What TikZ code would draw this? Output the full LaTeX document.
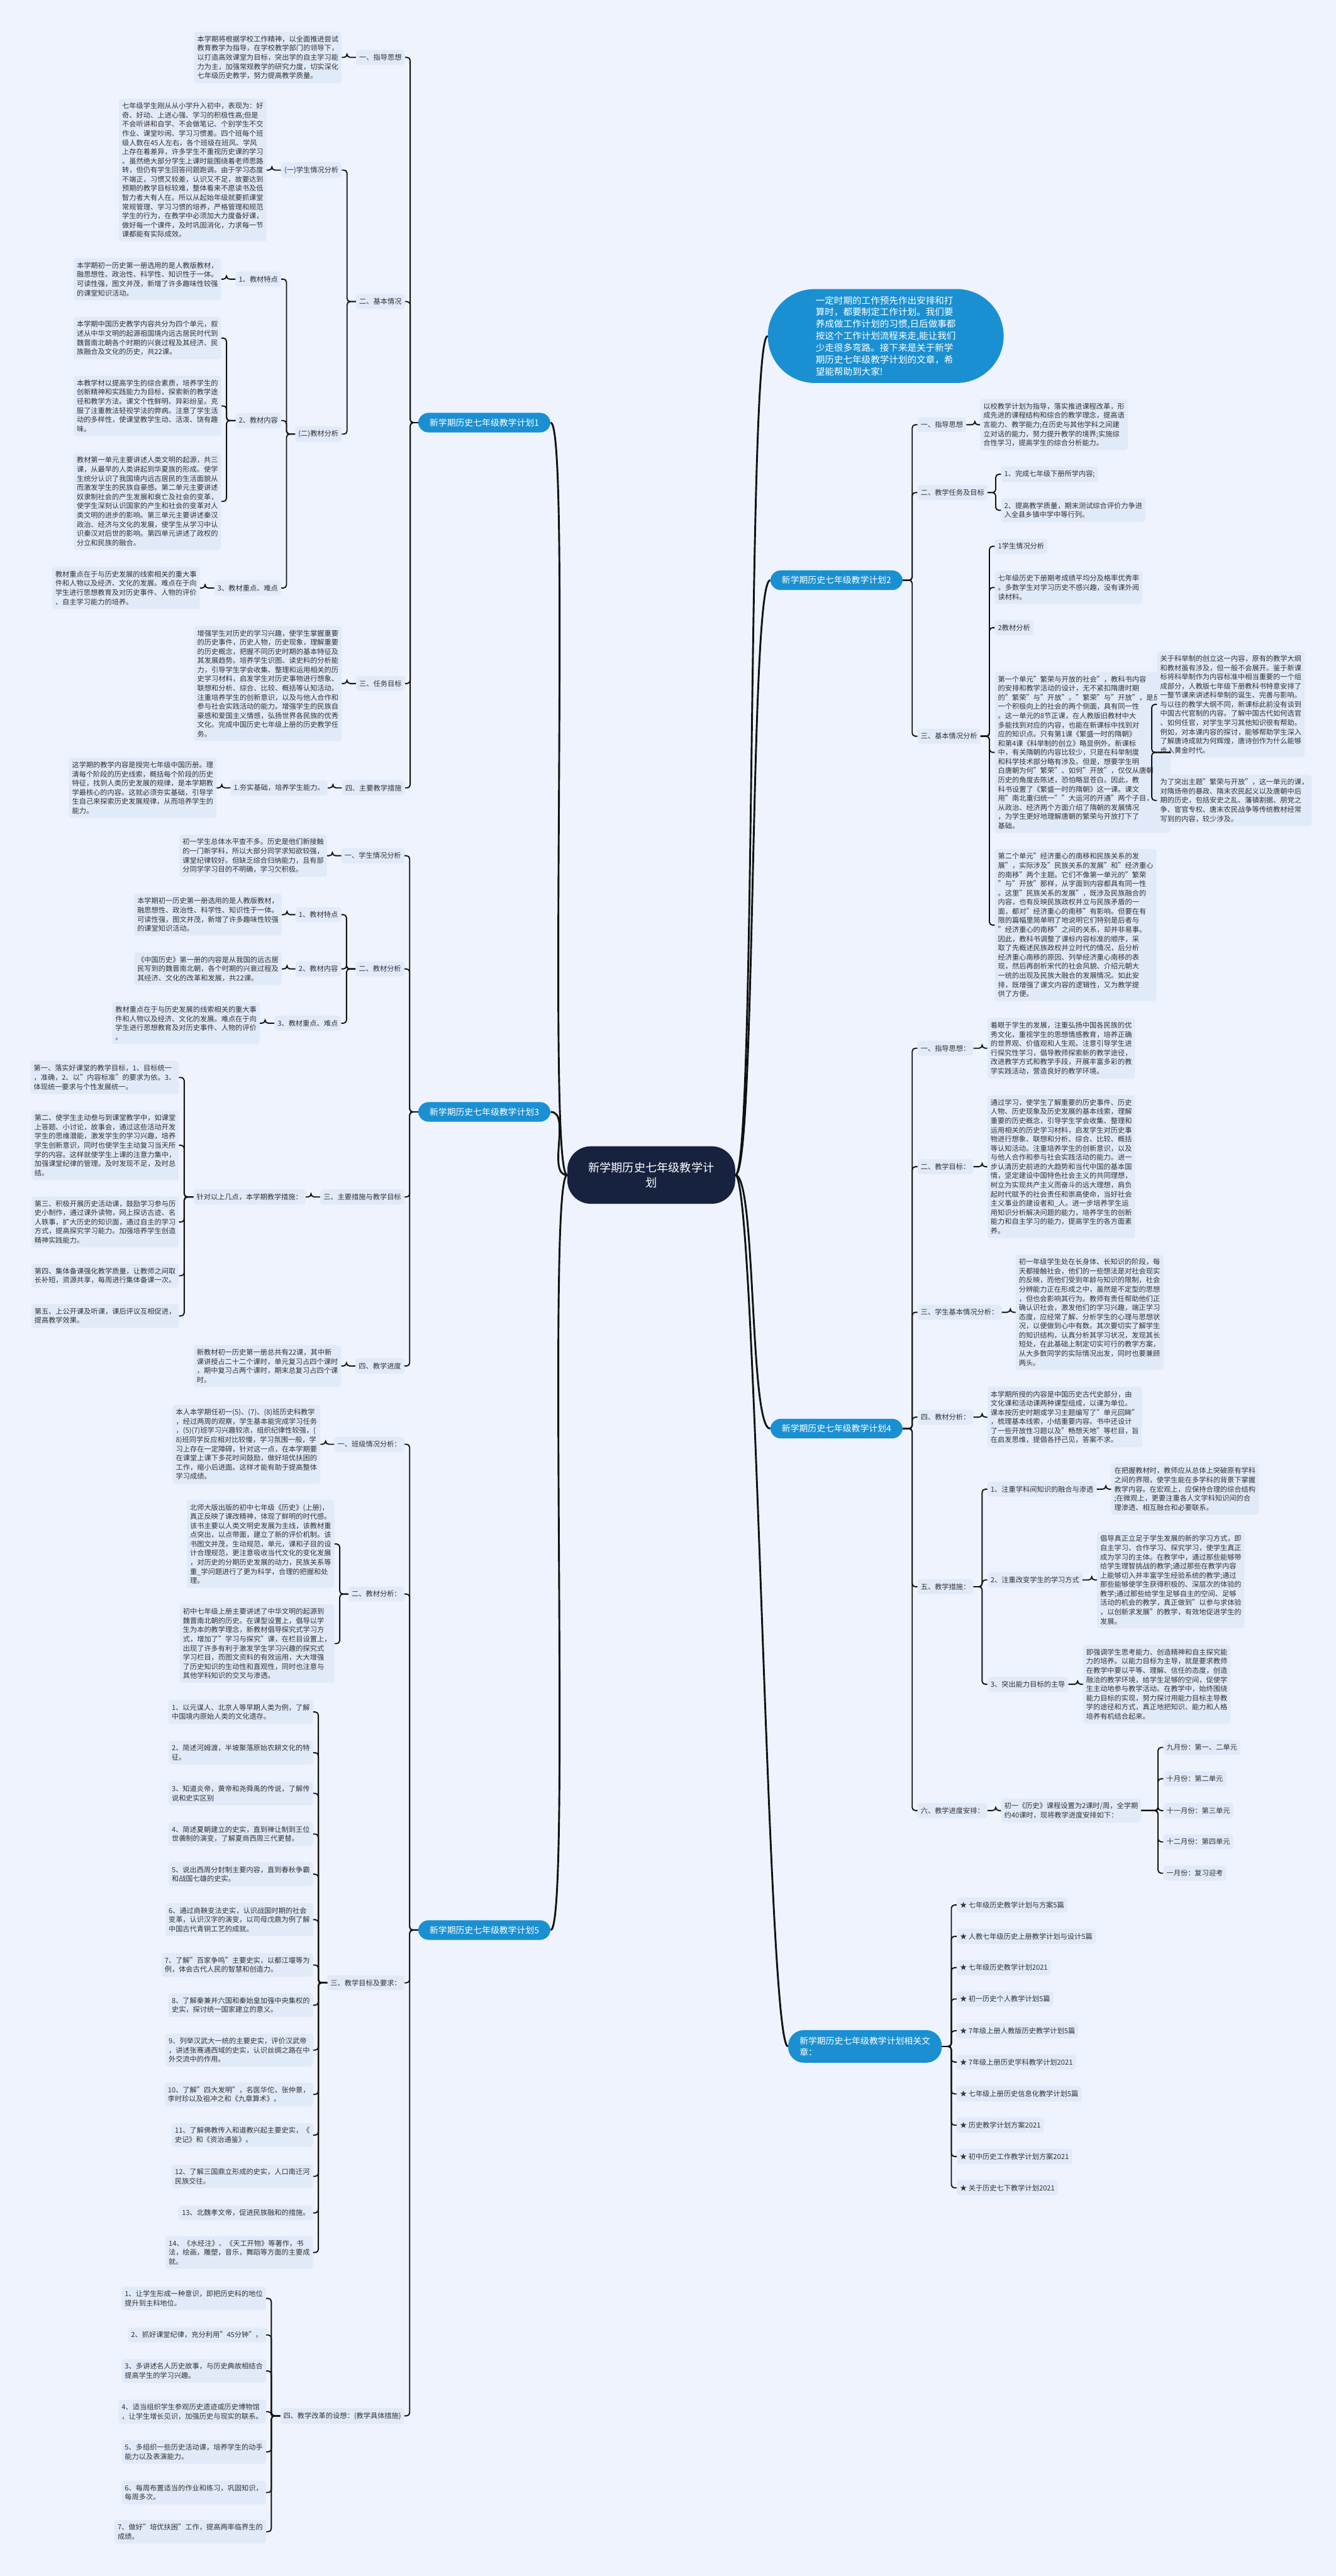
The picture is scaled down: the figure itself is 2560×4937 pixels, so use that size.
\documentclass[tikz,border=0pt]{standalone}
\usepackage{fontspec}
\setmainfont{Noto Sans CJK SC}
\newfontfamily\wmfont{Liberation Serif}
\definecolor{bgc}{HTML}{EEF3FD}
\definecolor{boxc}{HTML}{E1EAF8}
\definecolor{l1c}{HTML}{1A90D2}
\definecolor{rootc}{HTML}{17223F}
\definecolor{txtc}{HTML}{333333}
\definecolor{linec}{HTML}{111111}
\newcommand\fsA{\fontsize{7.7pt}{10pt}\selectfont}
\newcommand\fsB{\fontsize{9.5pt}{12.5pt}\selectfont}
\newcommand\fsC{\fontsize{12.5pt}{17pt}\selectfont}
\newcommand\fsD{\fontsize{10pt}{13pt}\selectfont}
\newcommand\lnk[2]{\draw[cn] (#1.west) -| ([xshift=0.2cm]#2.east) -- (#2.east);}
\newcommand\rnk[2]{\draw[cn] (#1.east) -| ([xshift=-0.2cm]#2.west) -- (#2.west);}
\tikzset{
  box/.style={fill=boxc, rounded corners=0.1cm, inner xsep=0.12cm, inner ysep=0.15cm, align=left, text=txtc, font=\fsA},
  lbl/.style={box, inner ysep=0.16cm},
  L/.style={anchor=east}, R/.style={anchor=west},
  lone/.style={fill=l1c, text=white, rounded corners=0.4cm, inner xsep=0.44cm, inner ysep=0.22cm, font=\fsB, align=left},
  cn/.style={draw=linec, line width=0.045cm, rounded corners=0.12cm},
  cnone/.style={draw=linec, line width=0.07cm}
}
\begin{document}
\begin{tikzpicture}[x=0.02cm,y=-0.02cm]
\fill[bgc] (0,0) rectangle (2560,4937);
\useasboundingbox (0,0) rectangle (2560,4937);

% ---------- root and intro ----------
\node[fill=rootc, text=white, rounded corners=0.9cm, inner xsep=0.8cm, inner ysep=0.6cm, font=\fsC, align=center] (root) at (1248,2252) {新学期历史七年级教学计\\划};
\node[fill=l1c, text=white, rounded corners=1.8cm, minimum width=9.04cm, minimum height=3.6cm, font=\fsD, align=left, anchor=west, inner sep=0pt] (intro) at (1471,644) {一定时期的工作预先作出安排和打\\算时，都要制定工作计划。我们要\\养成做工作计划的习惯,日后做事都\\按这个工作计划流程来走,能让我们\\少走很多弯路。接下来是关于新学\\期历史七年级教学计划的文章，希\\望能帮助到大家!};

% ---------- plan 1 ----------
\node[lone, anchor=west] (p1) at (801,810) {新学期历史七年级教学计划1};
\node[lbl, L] (p1a) at (776,110) {一、指导思想};
\node[box, L] (p1at) at (655,110) {本学期将根据学校工作精神，以全面推进尝试\\教育教学为指导，在学校教学部门的领导下，\\以打造高效课堂为目标，突出学的自主学习能\\力为主，加强常规教学的研究力度，切实深化\\七年级历史教学，努力提高教学质量。};
\node[lbl, L] (p1b) at (776,578) {二、基本情况};
\node[lbl, L] (p1b1) at (655,326) {(一)学生情况分析};
\node[box, L] (p1b1t) at (511,326) {七年级学生刚从从小学升入初中，表现为：好\\奇、好动、上进心强、学习的积极性高;但是\\不会听讲和自学、不会做笔记、个别学生不交\\作业、课堂吵闹、学习习惯差。四个班每个班\\级人数在45人左右，各个班级在班风、学风\\上存在着差异，许多学生不重视历史课的学习\\。虽然绝大部分学生上课时能围绕着老师思路\\转，但仍有学生回答问题跑调。由于学习态度\\不端正，习惯又较差，认识又不足，故要达到\\预期的教学目标较难，整体看来不愿读书及低\\智力者大有人在。所以从起始年级就要抓课堂\\常规管理、学习习惯的培养，严格管理和规范\\学生的行为，在教学中必须加大力度备好课，\\做好每一个课件，及时巩固消化，力求每一节\\课都能有实际成效。};
\node[lbl, L] (p1b2) at (655,832) {(二)教材分析};
\node[lbl, L] (p1c1) at (539,535) {1、教材特点};
\node[box, L] (p1c1t) at (424,535) {本学期初一历史第一册选用的是人教版教材，\\融思想性、政治性、科学性、知识性于一体。\\可读性强，图文并茂，新增了许多趣味性较强\\的课堂知识活动。};
\node[lbl, L] (p1c2) at (539,806) {2、教材内容};
\node[box, L] (p1d1) at (424,648) {本学期中国历史教学内容共分为四个单元，叙\\述从中华文明的起源祖国境内远古居民时代到\\魏晋南北朝各个时期的兴衰过程及其经济、民\\族融合及文化的历史，共22课。};
\node[box, L] (p1d2) at (424,778) {本教学材以提高学生的综合素质，培养学生的\\创新精神和实践能力为目标，探索新的教学途\\径和教学方法。课文个性鲜明、异彩纷呈。克\\服了注重教法轻视学法的弊病。注意了学生活\\动的多样性，使课堂教学生动、活泼、饶有趣\\味。};
\node[box, L] (p1d3) at (424,961) {教材第一单元主要讲述人类文明的起源，共三\\课，从最早的人类讲起到华夏族的形成。使学\\生统分认识了我国境内远古居民的生活面貌从\\而激发学生的民族自豪感。第二单元主要讲述\\奴隶制社会的产生发展和衰亡及社会的变革，\\使学生深刻认识国家的产生和社会的变革对人\\类文明的进步的影响。第三单元主要讲述秦汉\\政治、经济与文化的发展，使学生从学习中认\\识秦汉对后世的影响。第四单元讲述了政权的\\分立和民族的融合。};
\node[lbl, L] (p1c3) at (539,1127) {3、教材重点、难点};
\node[box, L] (p1c3t) at (383,1127) {教材重点在于与历史发展的线索相关的重大事\\件和人物以及经济、文化的发展。难点在于向\\学生进行思想教育及对历史事件、人物的评价\\、自主学习能力的培养。};
\node[lbl, L] (p1e) at (776,1310) {三、任务目标};
\node[box, L] (p1et) at (655,1310) {增强学生对历史的学习兴趣，使学生掌握重要\\的历史事件，历史人物，历史现象，理解重要\\的历史概念，把握不同历史时期的基本特征及\\其发展趋势。培养学生识图、读史料的分析能\\力，引导学生学会收集、整理和运用相关的历\\史学习材料，启发学生对历史事物进行想象、\\联想和分析、综合、比较、概括等认知活动。\\注重培养学生的创新意识，以及与他人合作和\\参与社会实践活动的能力。增强学生的民族自\\豪感和爱国主义情感，弘扬世界各民族的优秀\\文化。完成中国历史七年级上册的历史教学任\\务。};
\node[lbl, L] (p1f) at (776,1510) {四、主要教学措施};
\node[lbl, L] (p1f1) at (628,1510) {1.夯实基础，培养学生能力。};
\node[box, L] (p1f1t) at (415,1510) {这学期的教学内容是授完七年级中国历册。理\\清每个阶段的历史线索，概括每个阶段的历史\\特征，找到人类历史发展的规律，是本学期教\\学最核心的内容。这就必须夯实基础，引导学\\生自己来探索历史发展规律，从而培养学生的\\能力。};
\lnk{p1}{p1a}\lnk{p1}{p1b}\lnk{p1}{p1e}\lnk{p1}{p1f}
\lnk{p1a}{p1at}\lnk{p1b}{p1b1}\lnk{p1b}{p1b2}\lnk{p1b1}{p1b1t}
\lnk{p1b2}{p1c1}\lnk{p1b2}{p1c2}\lnk{p1b2}{p1c3}
\lnk{p1c1}{p1c1t}\lnk{p1c2}{p1d1}\lnk{p1c2}{p1d2}\lnk{p1c2}{p1d3}\lnk{p1c3}{p1c3t}
\lnk{p1e}{p1et}\lnk{p1f}{p1f1}\lnk{p1f1}{p1f1t}

% ---------- plan 3 ----------
\node[lone, anchor=west] (p3) at (801,2131) {新学期历史七年级教学计划3};
\node[lbl, L] (p3a) at (775,1640) {一、学生情况分析};
\node[box, L] (p3at) at (627,1640) {初一学生总体水平查不多。历史是他们新接触\\的一门新学科，所以大部分同学求知欲较强，\\课堂纪律较好。但缺乏综合归纳能力，且有部\\分同学学习目的不明确，学习欠积极。};
\node[lbl, L] (p3b) at (775,1857) {二、教材分析};
\node[lbl, L] (p3b1) at (654,1753) {1、教材特点};
\node[box, L] (p3b1t) at (540,1753) {本学期初一历史第一册选用的是人教版教材，\\融思想性、政治性、科学性、知识性于一体。\\可读性强，图文并茂，新增了许多趣味性较强\\的课堂知识活动。};
\node[lbl, L] (p3b2) at (654,1857) {2、教材内容};
\node[box, L] (p3b2t) at (540,1857) {《中国历史》第一册的内容是从我国的远古居\\民写到的魏晋南北朝，各个时期的兴衰过程及\\其经济、文化的改革和发展，共22课。};
\node[lbl, L] (p3b3) at (654,1961) {3、教材重点、难点};
\node[box, L] (p3b3t) at (498,1961) {教材重点在于与历史发展的线索相关的重大事\\件和人物以及经济、文化的发展。难点在于向\\学生进行思想教育及对历史事件、人物的评价\\。};
\node[lbl, L] (p3c) at (775,2294) {三、主要措施与教学目标};
\node[lbl, L] (p3c1) at (586,2294) {针对以上几点，本学期教学措施：};
\node[box, L] (p3d1) at (343,2065) {第一、落实好课堂的教学目标，1、目标统一\\，准确，2、以"内容标准"的要求为依。3、\\体现统一要求与个性发展统一。};
\node[box, L] (p3d2) at (343,2195) {第二、使学生主动叁与到课堂教学中，如课堂\\上答题、小讨论，故事会，通过这些活动开发\\学生的思维潜能，激发学生的学习兴趣，培养\\学生创新意识，同时也使学生主动复习当天所\\学的内容。这样就使学生上课的注意力集中，\\加强课堂纪律的管理。及时发现不足，及时总\\结。};
\node[box, L] (p3d3) at (343,2342) {第三、积极开展历史活动课，鼓励学习参与历\\史小制作，通过课外读物，网上探访古迹、名\\人轶事，扩大历史的知识面，通过自主的学习\\方式，提高探究学习能力。加强培养学生创造\\精神实践能力。};
\node[box, L] (p3d4) at (343,2445) {第四、集体备课强化教学质量，让教师之间取\\长补短，资源共享，每周进行集体备课一次。};
\node[box, L] (p3d5) at (343,2522) {第五、上公开课及听课，课后评议互相促进，\\提高教学效果。};
\node[lbl, L] (p3e) at (775,2618) {四、教学进度};
\node[box, L] (p3et) at (654,2618) {新教材初一历史第一册总共有22课，其中新\\课讲授占二十二个课时，单元复习占四个课时\\，期中复习占两个课时，期末总复习占四个课\\时。};
\lnk{p3}{p3a}\lnk{p3}{p3b}\lnk{p3}{p3c}\lnk{p3}{p3e}
\lnk{p3a}{p3at}\lnk{p3b}{p3b1}\lnk{p3b}{p3b2}\lnk{p3b}{p3b3}
\lnk{p3b1}{p3b1t}\lnk{p3b2}{p3b2t}\lnk{p3b3}{p3b3t}
\lnk{p3c}{p3c1}\lnk{p3c1}{p3d1}\lnk{p3c1}{p3d2}\lnk{p3c1}{p3d3}\lnk{p3c1}{p3d4}\lnk{p3c1}{p3d5}
\lnk{p3e}{p3et}

% ---------- plan 5 ----------
\node[lone, anchor=west] (p5) at (801,3699) {新学期历史七年级教学计划5};
\node[lbl, L] (p5a) at (775,2768) {一、班级情况分析：};
\node[box, L] (p5at) at (614,2768) {本人本学期任初一(5)、(7)、(8)班历史科教学\\，经过两周的观察，学生基本能完成学习任务\\，(5)(7)班学习兴趣较浓，组织纪律性较强，(\\8)班同学反应相对比较慢，学习氛围一般，学\\习上存在一定障碍，针对这一点，在本学期要\\在课堂上课下多花时间鼓励，做好培优扶困的\\工作，缩小后进面。这样才能有助于提高整体\\学习成绩。};
\node[lbl, L] (p5b) at (775,3055) {二、教材分析：};
\node[box, L] (p5b1) at (641,2959) {北师大版出版的初中七年级《历史》(上册)，\\真正反映了课改精神，体现了鲜明的时代感。\\该书主要以人类文明史发展为主线，该教材重\\点突出，以点带面，建立了新的评价机制。该\\书图文并茂，生动规范，单元，课和子目的设\\计合理规范，更注意吸收当代文化的变化发展\\，对历史的分期历史发展的动力，民族关系等\\重\_学问题进行了更为科学，合理的把握和处\\理。};
\node[box, L] (p5b2) at (641,3150) {初中七年级上册主要讲述了中华文明的起源到\\魏晋南北朝的历史。在课型设置上，倡导以学\\生为本的教学理念，新教材倡导探究式学习方\\式，增加了"学习与探究"课，在栏目设置上，\\出现了许多有利于激发学生学习兴趣的探究式\\学习栏目，而图文资料的有效运用，大大增强\\了历史知识的生动性和直观性，同时也注意与\\其他学科知识的交叉与渗透。};
\node[lbl, L] (p5c) at (775,3800) {三、教学目标及要求：};
\node[box, L] (p5c1) at (600,3281) {1、以元谋人、北京人等早期人类为例，了解\\中国境内原始人类的文化遗存。};
\node[box, L] (p5c2) at (600,3359) {2、简述河姆渡，半坡聚落原始农耕文化的特\\征。};
\node[box, L] (p5c3) at (600,3437) {3、知道炎帝，黄帝和尧舜禹的传说，了解传\\说和史实区别};
\node[box, L] (p5c4) at (600,3515) {4、简述夏朝建立的史实，直到禅让制到王位\\世袭制的演变，了解夏商西周三代更替。};
\node[box, L] (p5c5) at (600,3592) {5、说出西周分封制主要内容，直到春秋争霸\\和战国七雄的史实。};
\node[box, L] (p5c6) at (600,3679) {6、通过商鞅变法史实，认识战国时期的社会\\变革，认识汉字的演变，以司母戊鼎为例了解\\中国古代青铜工艺的成就。};
\node[box, L] (p5c7) at (600,3766) {7、了解"百家争鸣"主要史实，以都江堰等为\\例，体会古代人民的智慧和创造力。};
\node[box, L] (p5c8) at (600,3843) {8、了解秦兼并六国和秦始皇加强中央集权的\\史实，探讨统一国家建立的意义。};
\node[box, L] (p5c9) at (600,3929) {9、列举汉武大一统的主要史实，评价汉武帝\\，讲述张骞通西域的史实，认识丝绸之路在中\\外交流中的作用。};
\node[box, L] (p5c10) at (600,4014) {10、了解"四大发明"，名医华佗，张仲景，\\李时珍以及祖冲之和《九章算术》。};
\node[box, L] (p5c11) at (600,4092) {11、了解佛教传入和道教兴起主要史实，《\\史记》和《资治通鉴》。};
\node[box, L] (p5c12) at (600,4171) {12、了解三国鼎立形成的史实，人口南迁河\\民族交往。};
\node[box, L] (p5c13) at (600,4241) {13、北魏孝文帝，促进民族融和的措施。};
\node[box, L] (p5c14) at (600,4317) {14、《水经注》、《天工开物》等著作，书\\法，绘画，雕塑，音乐，舞蹈等方面的主要成\\就。};
\node[lbl, L] (p5d) at (775,4630) {四、教学改革的设想：(教学具体措施)};
\node[box, L] (p5d1) at (510,4405) {1、让学生形成一种意识，即把历史科的地位\\提升到主科地位。};
\node[box, L] (p5d2) at (510,4475) {2、抓好课堂纪律，充分利用"45分钟"。};
\node[box, L] (p5d3) at (510,4544) {3、多讲述名人历史故事，与历史典故相结合\\提高学生的学习兴趣。};
\node[box, L] (p5d4) at (510,4622) {4、适当组织学生参观历史遗迹或历史博物馆\\，让学生增长见识，加强历史与现实的联系。};
\node[box, L] (p5d5) at (510,4699) {5、多组织一些历史活动课，培养学生的动手\\能力以及表演能力。};
\node[box, L] (p5d6) at (510,4777) {6、每周布置适当的作业和练习，巩固知识，\\每周多次。};
\node[box, L] (p5d7) at (510,4852) {7、做好"培优扶困"工作，提高两率临界生的\\成绩。};
\lnk{p5}{p5a}\lnk{p5}{p5b}\lnk{p5}{p5c}\lnk{p5}{p5d}
\lnk{p5a}{p5at}\lnk{p5b}{p5b1}\lnk{p5b}{p5b2}
\foreach \i in {1,...,14}{\lnk{p5c}{p5c\i}}
\foreach \i in {1,...,7}{\lnk{p5d}{p5d\i}}

% ---------- plan 2 ----------
\node[lone, anchor=east] (p2) at (1730,1112) {新学期历史七年级教学计划2};
\node[lbl, R] (p2a) at (1758,814) {一、指导思想};
\node[box, R] (p2at) at (1878,814) {以校教学计划为指导，落实推进课程改革，形\\成先进的课程结构和综合的教学理念，提高语\\言能力、教学能力;在历史与其他学科之间建\\立对话的能力，努力提升教学的境界;实施综\\合性学习，提高学生的综合分析能力。};
\node[lbl, R] (p2b) at (1758,944) {二、教学任务及目标};
\node[lbl, R] (p2b1) at (1918,909) {1、完成七年级下册所学内容;};
\node[box, R] (p2b2) at (1918,978) {2、提高教学质量，期末测试综合评价力争进\\入全县乡镇中学中等行列。};
\node[lbl, R] (p2c) at (1758,1411) {三、基本情况分析};
\node[lbl, R] (p2c1) at (1906,1047) {1学生情况分析};
\node[box, R] (p2c2) at (1906,1126) {七年级历史下册期考成绩平均分及格率优秀率\\。多数学生对学习历史不感兴趣，没有课外阅\\读材料。};
\node[lbl, R] (p2c3) at (1906,1203) {2教材分析};
\node[box, R] (p2c4) at (1906,1442) {第一个单元"繁荣与开放的社会"，教科书内容\\的安排和教学活动的设计，无不紧扣隋唐时期\\的"繁荣"与"开放"。"繁荣"与"开放"，是反映\\一个积极向上的社会的两个侧面，具有同一性\\。这一单元的8节正课，在人教版旧教材中大\\多能找到对应的内容，也能在新课标中找到对\\应的知识点。只有第1课《繁盛一时的隋朝》\\和第4课《科举制的创立》略显例外。新课标\\中，有关隋朝的内容比较少，只是在科举制度\\和科学技术部分略有涉及。但是，想要学生明\\白唐朝为何"繁荣"、如何"开放"，仅仅从唐朝\\历史的角度去陈述，恐怕略显苍白。因此，教\\科书设置了《繁盛一时的隋朝》这一课。课文\\用"南北重归统一""大运河的开通"两个子目，\\从政治、经济两个方面介绍了隋朝的发展情况\\，为学生更好地理解唐朝的繁荣与开放打下了\\基础。};
\node[box, R] (p2c4a) at (2217,1350) {关于科举制的创立这一内容，原有的教学大纲\\和教材虽有涉及，但一般不会展开。鉴于新课\\标将科举制作为内容标准中相当重要的一个组\\成部分，人教版七年级下册教科书特意安排了\\一整节课来讲述科举制的诞生、完善与影响。\\与以往的教学大纲不同，新课标此前没有谈到\\中国古代官制的内容。了解中国古代如何选官\\、如何任官，对学生学习其他知识很有帮助。\\例如，对本课内容的探讨，能够帮助学生深入\\了解唐诗成就为何辉煌，唐诗创作为什么能够\\步入黄金时代。};
\node[box, R] (p2c4b) at (2217,1534) {为了突出主题"繁荣与开放"，这一单元的课，\\对隋炀帝的暴政、隋末农民起义以及唐朝中后\\期的历史，包括安史之乱、藩镇割据、朋党之\\争、宦官专权、唐末农民战争等传统教材经常\\写到的内容，较少涉及。};
\node[box, R] (p2c5) at (1906,1773) {第二个单元"经济重心的南移和民族关系的发\\展"，实际涉及"民族关系的发展"和"经济重心\\的南移"两个主题。它们不像第一单元的"繁荣\\"与"开放"那样，从字面到内容都具有同一性\\。这里"民族关系的发展"，既涉及民族融合的\\内容，也有反映民族政权并立与民族矛盾的一\\面，都对"经济重心的南移"有影响。但要在有\\限的篇幅里简单明了地说明它们特别是后者与\\"经济重心的南移"之间的关系，却并非易事。\\因此，教科书调整了课标内容标准的顺序，采\\取了先概述民族政权并立时代的情况，后分析\\经济重心南移的原因、列举经济重心南移的表\\现，然后再剖析宋代的社会风貌、介绍元朝大\\一统的出现及民族大融合的发展情况。如此安\\排，既增强了课文内容的逻辑性，又为教学提\\供了方便。};
\rnk{p2}{p2a}\rnk{p2}{p2b}\rnk{p2}{p2c}
\rnk{p2a}{p2at}\rnk{p2b}{p2b1}\rnk{p2b}{p2b2}
\rnk{p2c}{p2c1}\rnk{p2c}{p2c2}\rnk{p2c}{p2c3}\rnk{p2c}{p2c4}\rnk{p2c}{p2c5}
\rnk{p2c4}{p2c4a}\rnk{p2c4}{p2c4b}

% ---------- plan 4 ----------
\node[lone, anchor=east] (p4) at (1730,2738) {新学期历史七年级教学计划4};
\node[lbl, R] (p4a) at (1758,2009) {一、指导思想：};
\node[box, R] (p4at) at (1892,2009) {着眼于学生的发展，注重弘扬中国各民族的优\\秀文化，重视学生的思想情感教育，培养正确\\的世界观、价值观和人生观。注意引导学生进\\行探究性学习，倡导教师探索新的教学途径，\\改进教学方式和教学手段，开展丰富多彩的教\\学实践活动，营造良好的教学环境。};
\node[lbl, R] (p4b) at (1758,2236) {二、教学目标：};
\node[box, R] (p4bt) at (1892,2236) {通过学习，使学生了解重要的历史事件、历史\\人物、历史现象及历史发展的基本线索，理解\\重要的历史概念，引导学生学会收集、整理和\\运用相关的历史学习材料，启发学生对历史事\\物进行想象、联想和分析、综合、比较、概括\\等认知活动。注重培养学生的创新意识，以及\\与他人合作和参与社会实践活动的能力。进一\\步认清历史前进的大趋势和当代中国的基本国\\情，坚定建设中国特色社会主义的共同理想，\\树立为实现共产主义而奋斗的远大理想，肩负\\起时代赋予的社会责任和崇高使命，当好社会\\主义事业的建设者和\_人。进一步培养学生运\\用知识分析解决问题的能力，培养学生的创新\\能力和自主学习的能力，提高学生的各方面素\\养。};
\node[lbl, R] (p4c) at (1758,2515) {三、学生基本情况分析：};
\node[box, R] (p4ct) at (1946,2515) {初一年级学生处在长身体、长知识的阶段，每\\天都接触社会，他们的一些想法是对社会现实\\的反映，而他们受到年龄与知识的限制，社会\\分辨能力正在形成之中，虽然是不定型的思想\\，但也会影响其行为。教师有责任帮助他们正\\确认识社会，激发他们的学习兴趣，端正学习\\态度，应经常了解、分析学生的心理与思想状\\况，以便做到心中有数。其次要切实了解学生\\的知识结构，认真分析其学习状况，发现其长\\短处，在此基础上制定切实可行的教学方案，\\从大多数同学的实际情况出发，同时也要兼顾\\两头。};
\node[lbl, R] (p4d) at (1758,2716) {四、教材分析：};
\node[box, R] (p4dt) at (1892,2716) {本学期所授的内容是中国历史古代史部分，由\\文化课和活动课两种课型组成，以课为单位。\\课本按历史时期或学习主题编写了"单元回眸"\\，梳理基本线索，小结重要内容。书中还设计\\了一些开放性习题以及"畅想天地"等栏目，旨\\在启发思维，提倡各抒己见，答案不求。};
\node[lbl, R] (p4e) at (1758,3041) {五、教学措施：};
\node[lbl, R] (p4e1) at (1892,2854) {1、注重学科间知识的融合与渗透};
\node[box, R] (p4e1t) at (2129,2854) {在把握教材时，教师应从总体上突破原有学科\\之间的界限，使学生能在多学科的背景下掌握\\教学内容。在宏观上，应保持合理的综合结构\\;在微观上，更要注重各人文学科知识间的合\\理渗透、相互融合和必要联系。};
\node[lbl, R] (p4e2) at (1892,3028) {2、注重改变学生的学习方式};
\node[box, R] (p4e2t) at (2102,3028) {倡导真正立足于学生发展的新的学习方式，即\\自主学习、合作学习、探究学习，使学生真正\\成为学习的主体。在教学中，通过那些能够带\\给学生理智挑战的教学;通过那些在教学内容\\上能够切入并丰富学生经验系统的教学;通过\\那些能够使学生获得积极的、深层次的体验的\\教学;通过那些给学生足够自主的空间、足够\\活动的机会的教学，真正做到"以参与求体验\\，以创新求发展"的教学，有效地促进学生的\\发展。};
\node[lbl, R] (p4e3) at (1892,3228) {3、突出能力目标的主导};
\node[box, R] (p4e3t) at (2075,3228) {即强调学生思考能力、创造精神和自主探究能\\力的培养。以能力目标为主导，就是要求教师\\在教学中要以平等、理解、信任的态度，创造\\融洽的教学环境，给学生足够的空间，促使学\\生主动地参与教学活动。在教学中，始终围绕\\能力目标的实现，努力探讨用能力目标主导教\\学的途径和方式，真正地把知识、能力和人格\\培养有机结合起来。};
\node[lbl, R] (p4f) at (1758,3470) {六、教学进度安排：};
\node[box, R] (p4ft) at (1918,3470) {初一《历史》课程设置为2课时/周，全学期\\约40课时，现将教学进度安排如下：};
\node[lbl, R] (p4m1) at (2229,3349) {九月份：第一、二单元};
\node[lbl, R] (p4m2) at (2229,3409) {十月份：第二单元};
\node[lbl, R] (p4m3) at (2229,3470) {十一月份：第三单元};
\node[lbl, R] (p4m4) at (2229,3530) {十二月份：第四单元};
\node[lbl, R] (p4m5) at (2229,3590) {一月份：复习迎考};
\rnk{p4}{p4a}\rnk{p4}{p4b}\rnk{p4}{p4c}\rnk{p4}{p4d}\rnk{p4}{p4e}\rnk{p4}{p4f}
\rnk{p4a}{p4at}\rnk{p4b}{p4bt}\rnk{p4c}{p4ct}\rnk{p4d}{p4dt}
\rnk{p4e}{p4e1}\rnk{p4e}{p4e2}\rnk{p4e}{p4e3}
\rnk{p4e1}{p4e1t}\rnk{p4e2}{p4e2t}\rnk{p4e3}{p4e3t}
\rnk{p4f}{p4ft}
\foreach \i in {1,...,5}{\rnk{p4ft}{p4m\i}}

% ---------- related articles ----------
\node[lone, anchor=east, rounded corners=0.6cm, inner ysep=0.25cm] (p6) at (1805,3922) {新学期历史七年级教学计划相关文\\章：};
\foreach \i/\y/\t in {1/3651/七年级历史教学计划与方案5篇, 2/3711/人教七年级历史上册教学计划与设计5篇, 3/3771/七年级历史教学计划2021, 4/3831/初一历史个人教学计划5篇, 5/3892/7年级上册人教版历史教学计划5篇, 6/3952/7年级上册历史学科教学计划2021, 7/4013/七年级上册历史信息化教学计划5篇, 8/4073/历史教学计划方案2021, 9/4133/初中历史工作教学计划方案2021, 10/4193/关于历史七下教学计划2021}{
  \node[lbl, R] (ar\i) at (1833,\y) {★ \t};
  \rnk{p6}{ar\i}
}

% ---------- level-1 connectors ----------
\draw[cnone] (root.west) .. controls +(-40,0) and +(40,0) .. (p1.east);
\draw[cnone] (root.west) .. controls +(-40,0) and +(40,0) .. (p3.east);
\draw[cnone] (root.west) .. controls +(-40,0) and +(40,0) .. (p5.east);
\draw[cnone] (root.east) .. controls +(40,0) and +(-40,0) .. (intro.west);
\draw[cnone] (root.east) .. controls +(40,0) and +(-40,0) .. (p2.west);
\draw[cnone] (root.east) .. controls +(40,0) and +(-40,0) .. (p4.west);
\draw[cnone] (root.east) .. controls +(40,0) and +(-40,0) .. (p6.west);
\end{tikzpicture}
\end{document}
